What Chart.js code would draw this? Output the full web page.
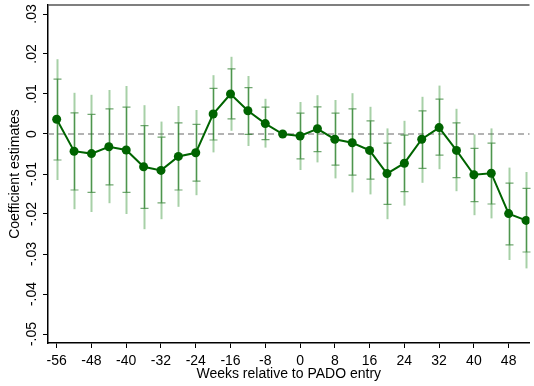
<!DOCTYPE html>
<html>
<head>
<meta charset="utf-8">
<script src="https://cdn.jsdelivr.net/npm/chart.js@4.4.1/dist/chart.umd.min.js"></script>
<style>
    body { margin: 0; background: #fff; }
    #wrap { width: 534px; height: 386px; }
</style>
</head>
<body>
<div id="wrap"><canvas id="coefChart" width="534" height="386"></canvas></div>
<script>
    // Data
    const weeks = [-56, -52, -48, -44, -40, -36, -32, -28, -24, -20, -16, -12, -8, -4,
                   0, 4, 8, 12, 16, 20, 24, 28, 32, 36, 40, 44, 48, 52];
    const coef = [0.0037, -0.0043, -0.0049, -0.0032, -0.0040, -0.0082, -0.0091, -0.0056, -0.0047, 0.0050,
                  0.0100, 0.0058, 0.0026, 0.0000, -0.0005, 0.0013, -0.0013, -0.0022, -0.0041, -0.0099,
                  -0.0073, -0.0013, 0.0016, -0.0041, -0.0102, -0.0098, -0.0199, -0.0216];
    // outer interval (no caps)
    const outerHi = [0.0187, 0.0103, 0.0098, 0.0110, 0.0120, 0.0072, 0.0031, 0.0070, 0.0060, 0.0147,
                     0.0193, 0.0145, 0.0088, null, 0.0080, 0.0097, 0.0085, 0.0102, 0.0068, 0.0014,
                     0.0033, 0.0093, 0.0121, 0.0063, -0.0001, 0.0014, -0.0084, -0.0095];
    const outerLo = [-0.0115, -0.0188, -0.0195, -0.0173, -0.0200, -0.0238, -0.0213, -0.0182, -0.0153, -0.0046,
                     0.0008, -0.0030, -0.0034, null, -0.0090, -0.0071, -0.0111, -0.0146, -0.0151, -0.0213,
                     -0.0179, -0.0122, -0.0088, -0.0143, -0.0203, -0.0211, -0.0315, -0.0336];
    // inner interval (capped)
    const innerHi = [0.0137, 0.0053, 0.0049, 0.0063, 0.0067, 0.0021, -0.0008, 0.0028, 0.0024, 0.0114,
                     0.0163, 0.0116, 0.0067, null, 0.0052, 0.0068, 0.0052, 0.0063, 0.0033, -0.0023,
                     -0.0003, 0.0058, 0.0087, 0.0028, -0.0036, -0.0023, -0.0123, -0.0136];
    const innerLo = [-0.0065, -0.0140, -0.0146, -0.0127, -0.0146, -0.0186, -0.0172, -0.0140, -0.0118, -0.0015,
                     0.0038, -0.0001, -0.0014, null, -0.0062, -0.0044, -0.0078, -0.0103, -0.0113, -0.0176,
                     -0.0144, -0.0086, -0.0053, -0.0109, -0.0169, -0.0175, -0.0277, -0.0295];

    const xTicks = [-56, -48, -40, -32, -24, -16, -8, 0, 8, 16, 24, 32, 40, 48];
    const yTicks = [0.03, 0.02, 0.01, 0, -0.01, -0.02, -0.03, -0.04, -0.05];
    const yTickLabels = ['.03', '.02', '.01', '0', '-.01', '-.02', '-.03', '-.04', '-.05'];

    const FONT = 'Liberation Sans, Arial, Helvetica, sans-serif';
    const green = '#006400';

    // Error bars, zero line, frame and rotated y labels
    const decorPlugin = {
        id: 'decor',
        beforeDatasetsDraw(chart) {
            const { ctx, chartArea, scales: { x, y } } = chart;
            ctx.save();
            // dashed zero line
            ctx.strokeStyle = '#9a9a9a';
            ctx.lineWidth = 1.5;
            ctx.setLineDash([6, 4]);
            ctx.beginPath();
            ctx.moveTo(chartArea.left, y.getPixelForValue(0));
            ctx.lineTo(chartArea.right, y.getPixelForValue(0));
            ctx.stroke();
            ctx.setLineDash([]);

            weeks.forEach((w, i) => {
                if (outerHi[i] === null) return;
                const px = Math.round(x.getPixelForValue(w)) + 0.5;
                // outer spike
                ctx.strokeStyle = 'rgba(60, 150, 60, 0.45)';
                ctx.lineWidth = 2;
                ctx.beginPath();
                ctx.moveTo(px, y.getPixelForValue(outerHi[i]));
                ctx.lineTo(px, y.getPixelForValue(outerLo[i]));
                ctx.stroke();
                // inner capped range
                const t = y.getPixelForValue(innerHi[i]);
                const b = y.getPixelForValue(innerLo[i]);
                ctx.strokeStyle = 'rgba(20, 110, 20, 0.6)';
                ctx.lineWidth = 1.2;
                ctx.beginPath();
                ctx.moveTo(px, t);
                ctx.lineTo(px, b);
                ctx.moveTo(px - 4, t);
                ctx.lineTo(px + 4, t);
                ctx.moveTo(px - 4, b);
                ctx.lineTo(px + 4, b);
                ctx.stroke();
            });
            ctx.restore();
        },
        afterDraw(chart) {
            const { ctx, chartArea, scales: { y } } = chart;
            ctx.save();
            // top frame line
            ctx.strokeStyle = '#555';
            ctx.lineWidth = 1.5;
            ctx.beginPath();
            ctx.moveTo(chartArea.left, chartArea.top);
            ctx.lineTo(chartArea.right, chartArea.top);
            ctx.stroke();
            // rotated y tick labels
            ctx.fillStyle = '#000';
            ctx.font = '14px ' + FONT;
            ctx.textAlign = 'center';
            ctx.textBaseline = 'middle';
            yTicks.forEach((v, i) => {
                ctx.save();
                ctx.translate(32, y.getPixelForValue(v));
                ctx.rotate(-Math.PI / 2);
                ctx.fillText(yTickLabels[i], 0, 0);
                ctx.restore();
            });
            ctx.restore();
        }
    };

    const ctx = document.getElementById('coefChart').getContext('2d');
    const coefChart = new Chart(ctx, {
        type: 'line',
        data: {
            datasets: [{
                data: weeks.map((w, i) => ({ x: w, y: coef[i] })),
                borderColor: green,
                backgroundColor: green,
                borderWidth: 2,
                pointRadius: 4.5,
                pointBackgroundColor: green,
                pointBorderWidth: 0,
                tension: 0
            }]
        },
        options: {
            responsive: false,
            animation: false,
            layout: { padding: { top: 5, left: 0, right: 0, bottom: 0 } },
            scales: {
                x: {
                    type: 'linear',
                    min: -58,
                    max: 52.8,
                    afterBuildTicks: s => { s.ticks = xTicks.map(v => ({ value: v })); },
                    afterFit: s => { s.height = 43; },
                    grid: { drawOnChartArea: false, drawTicks: true, tickLength: 5, tickColor: '#000', tickWidth: 1 },
                    border: { display: true, color: '#000', width: 1.5 },
                    ticks: {
                        color: '#000',
                        font: { family: FONT, size: 14 },
                        padding: 5,
                        maxRotation: 0,
                        autoSkip: false,
                        callback: v => String(v)
                    },
                    title: {
                        display: true,
                        text: 'Weeks relative to PADO entry',
                        color: '#000',
                        font: { family: FONT, size: 14 },
                        padding: { top: 0, bottom: 3 }
                    }
                },
                y: {
                    min: -0.05225,
                    max: 0.03225,
                    afterBuildTicks: s => { s.ticks = yTicks.map(v => ({ value: v })); },
                    afterFit: s => { s.width = 48; },
                    grid: { drawOnChartArea: false, drawTicks: true, tickLength: 5, tickColor: '#000', tickWidth: 1 },
                    border: { display: true, color: '#000', width: 1.5 },
                    ticks: { display: false },
                    title: {
                        display: true,
                        text: 'Coefficient estimates',
                        color: '#000',
                        font: { family: FONT, size: 14 },
                        padding: { top: 7, bottom: 0 }
                    }
                }
            },
            plugins: {
                legend: { display: false },
                tooltip: { enabled: false }
            }
        },
        plugins: [decorPlugin]
    });
</script>
</body>
</html>
